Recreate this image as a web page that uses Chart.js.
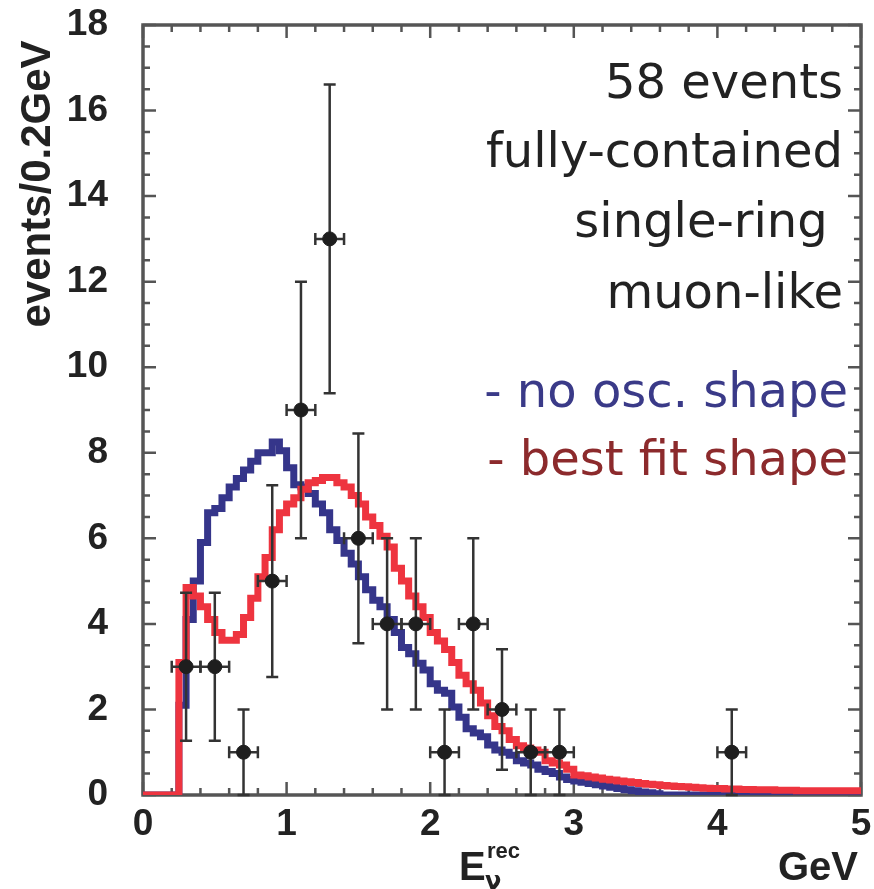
<!DOCTYPE html>
<html>
<head>
<meta charset="utf-8">
<script src="https://cdn.jsdelivr.net/npm/chart.js@4.4.1/dist/chart.umd.min.js"></script>
<style>
  html, body { margin: 0; padding: 0; background: #fff; }
  #wrap { width: 874px; height: 889px; }
</style>
</head>
<body>
<div id="wrap"><canvas id="enuChart" width="874" height="889"></canvas></div>
<script>
// reconstructed neutrino energy, bins of 0.05 GeV from 0 to 5 GeV
const binWidth = 0.05;

// MC shape, no oscillation (blue)
const noOscShape = [
  0, 0, 0, 0, 0, 2.1, 4.1, 5.0, 5.9, 6.6,
  6.7, 6.95, 7.2, 7.4, 7.6, 7.8, 8.0, 8.0, 8.25, 8.05,
  7.65, 7.25, 7.2, 7.05, 6.8, 6.6, 6.2, 5.95, 5.65, 5.4,
  5.1, 4.8, 4.55, 4.4, 4.1, 3.8, 3.45, 3.3, 3.08, 2.92,
  2.6, 2.45, 2.38, 2.06, 1.82, 1.55, 1.45, 1.36, 1.17, 1.05,
  1.0, 0.93, 0.8, 0.75, 0.7, 0.6, 0.55, 0.5, 0.42, 0.36,
  0.33, 0.3, 0.27, 0.24, 0.21, 0.18, 0.15, 0.12, 0.1, 0.07,
  0.05, 0.03, 0, 0, 0, 0, 0, 0, 0, 0,
  0, 0, 0, 0, 0, 0, 0, 0, 0, 0,
  0, 0, 0, 0, 0, 0, 0, 0, 0, 0
];

// MC shape, best oscillation fit (red)
const bestFitShape = [
  0, 0, 0, 0, 0, 3.1, 4.85, 4.65, 4.4, 4.1,
  3.8, 3.62, 3.62, 3.75, 4.15, 4.6, 5.1, 5.55, 6.2, 6.6,
  6.8, 6.95, 7.15, 7.3, 7.35, 7.42, 7.42, 7.3, 7.2, 7.0,
  6.8, 6.5, 6.3, 6.05, 5.8, 5.3, 5.0, 4.65, 4.4, 4.15,
  3.8, 3.6, 3.4, 3.1, 2.8, 2.6, 2.45, 2.15, 1.85, 1.6,
  1.5, 1.3, 1.15, 1.1, 1.05, 1.0, 0.8, 0.75, 0.7, 0.6,
  0.47, 0.45, 0.42, 0.4, 0.37, 0.35, 0.33, 0.31, 0.29, 0.27,
  0.25, 0.24, 0.22, 0.21, 0.2, 0.19, 0.18, 0.17, 0.16, 0.15,
  0.15, 0.14, 0.14, 0.13, 0.13, 0.12, 0.12, 0.12, 0.11, 0.11,
  0.11, 0.1, 0.1, 0.1, 0.1, 0.1, 0.1, 0.1, 0.1, 0.1
];

// data: 0.2 GeV bins (centres), counts and errors
const dataE = [0.3, 0.5, 0.7, 0.9, 1.1, 1.3, 1.5, 1.7, 1.9, 2.1, 2.3, 2.5, 2.7, 2.9, 4.1];
const dataCounts = [3, 3, 1, 5, 9, 13, 6, 4, 4, 1, 4, 2, 1, 1, 1];
const dataErr = [1.73, 1.73, 1, 2.24, 3, 3.61, 2.45, 2, 2, 1, 2, 1.41, 1, 1, 1];
const dataHalfWidth = 0.1;

const xTicks = [0, 1, 2, 3, 4, 5];
const yTicks = [0, 2, 4, 6, 8, 10, 12, 14, 16, 18];

const infoLines = ['58 events', 'fully-contained', 'single-ring ', 'muon-like'];
const legendLines = ['- no osc. shape', '- best fit shape'];

// histogram as step points at lower bin edges (+ closing edge)
function histPoints(vals) {
  const pts = vals.map((v, i) => ({ x: i * binWidth, y: v }));
  pts.push({ x: vals.length * binWidth, y: vals[vals.length - 1] });
  return pts;
}

const tickFont = { family: 'Liberation Sans, Arial, sans-serif', size: 37, weight: 'bold' };

// error bars for the data points
const errorBars = {
  id: 'errorBars',
  beforeDatasetDraw(chart, args) {
    if (args.index !== 0) return;
    const x = chart.scales.x, y = chart.scales.y, ctx = chart.ctx;
    ctx.save();
    ctx.strokeStyle = '#333';
    ctx.lineWidth = 2.5;
    const cap = 6;
    dataE.forEach((e, i) => {
      const px = x.getPixelForValue(e);
      const py = y.getPixelForValue(dataCounts[i]);
      const top = y.getPixelForValue(dataCounts[i] + dataErr[i]);
      const bot = y.getPixelForValue(Math.max(0, dataCounts[i] - dataErr[i]));
      const l = x.getPixelForValue(e - dataHalfWidth);
      const r = x.getPixelForValue(e + dataHalfWidth);
      ctx.beginPath();
      ctx.moveTo(px, top); ctx.lineTo(px, bot);
      ctx.moveTo(px - cap, top); ctx.lineTo(px + cap, top);
      ctx.moveTo(px - cap, bot); ctx.lineTo(px + cap, bot);
      ctx.moveTo(l, py); ctx.lineTo(r, py);
      ctx.moveTo(l, py - cap); ctx.lineTo(l, py + cap);
      ctx.moveTo(r, py - cap); ctx.lineTo(r, py + cap);
      ctx.stroke();
    });
    ctx.restore();
  }
};

// frame with inward ticks on all sides (under the histograms)
const frame = {
  id: 'frame',
  beforeDatasetsDraw(chart) {
    const { ctx, chartArea: a } = chart;
    const x = chart.scales.x, y = chart.scales.y;
    ctx.save();
    ctx.strokeStyle = '#555';
    ctx.lineWidth = 2.5;
    ctx.beginPath();
    for (let k = 0; k <= 25; k++) {
      const px = x.getPixelForValue(k * 0.2);
      const len = k % 5 === 0 ? 13 : 7;
      ctx.moveTo(px, a.bottom); ctx.lineTo(px, a.bottom - len);
      ctx.moveTo(px, a.top); ctx.lineTo(px, a.top + len);
    }
    for (let k = 0; k <= 36; k++) {
      const py = y.getPixelForValue(k * 0.5);
      const len = k % 4 === 0 ? 13 : 7;
      ctx.moveTo(a.left, py); ctx.lineTo(a.left + len, py);
      ctx.moveTo(a.right, py); ctx.lineTo(a.right - len, py);
    }
    ctx.stroke();
    ctx.lineWidth = 3.5;
    ctx.strokeRect(a.left, a.top, a.right - a.left, a.bottom - a.top);
    ctx.restore();
  }
};

// axis titles and the text block
const texts = {
  id: 'texts',
  afterDraw(chart) {
    const ctx = chart.ctx;
    ctx.save();
    ctx.fillStyle = '#222';
    ctx.font = 'bold 42px Liberation Sans, Arial, sans-serif';
    ctx.save();
    ctx.translate(50, 184);
    ctx.rotate(-Math.PI / 2);
    ctx.textAlign = 'center';
    ctx.textBaseline = 'alphabetic';
    ctx.fillText('events/0.2GeV', 0, 0);
    ctx.restore();

    ctx.textBaseline = 'alphabetic';
    ctx.textAlign = 'right';
    ctx.font = 'bold 40px Liberation Sans, Arial, sans-serif';
    ctx.fillText('GeV', 858, 880);
    ctx.textAlign = 'left';
    ctx.fillText('E', 459, 880);
    ctx.font = 'bold 22px Liberation Sans, Arial, sans-serif';
    ctx.fillText('rec', 487, 858);
    ctx.font = 'bold 24px DejaVu Sans, sans-serif';
    ctx.fillText('\u03bd', 485, 889);

    ctx.font = '48px DejaVu Sans, sans-serif';
    ctx.textAlign = 'right';
    const base = [98, 167, 237, 308];
    infoLines.forEach((t, i) => ctx.fillText(t, 843, base[i]));
    ctx.fillStyle = '#3a3a88';
    ctx.fillText(legendLines[0], 848, 407);
    ctx.fillStyle = '#8c2a2c';
    ctx.fillText(legendLines[1], 848, 475);
    ctx.restore();
  }
};

const ctx = document.getElementById('enuChart').getContext('2d');
new Chart(ctx, {
  type: 'scatter',
  data: {
    datasets: [
      {
        label: 'data',
        data: dataE.map((e, i) => ({ x: e, y: dataCounts[i] })),
        backgroundColor: '#1e1e1e',
        borderColor: '#1e1e1e',
        pointRadius: 7,
        showLine: false
      },
      {
        label: 'best fit shape',
        type: 'line',
        data: histPoints(bestFitShape),
        borderColor: '#ee343f',
        borderWidth: 7,
        stepped: 'before',
        pointRadius: 0,
        fill: false,
        borderJoinStyle: 'miter'
      },
      {
        label: 'no osc. shape',
        type: 'line',
        data: histPoints(noOscShape),
        borderColor: '#35358a',
        borderWidth: 7,
        stepped: 'before',
        pointRadius: 0,
        fill: false,
        borderJoinStyle: 'miter',
        clip: 0
      }
    ]
  },
  options: {
    responsive: false,
    animation: false,
    devicePixelRatio: 1,
    layout: { padding: { top: 25, right: 13, left: 0, bottom: 0 } },
    plugins: { legend: { display: false }, tooltip: { enabled: false } },
    scales: {
      x: {
        type: 'linear', min: 0, max: 5,
        afterBuildTicks: s => { s.ticks = xTicks.map(v => ({ value: v })); },
        afterFit: s => { s.height = 94; s.paddingLeft = 0; s.paddingRight = 0; },
        grid: { display: false, drawTicks: false },
        border: { display: false },
        ticks: { font: tickFont, color: '#222', padding: 8, maxRotation: 0 }
      },
      y: {
        type: 'linear', min: 0, max: 18,
        afterBuildTicks: s => { s.ticks = yTicks.map(v => ({ value: v })); },
        afterFit: s => { s.width = 143; s.paddingTop = 0; s.paddingBottom = 0; },
        grid: { display: false, drawTicks: false },
        border: { display: false },
        ticks: { font: tickFont, color: '#222', padding: 35 }
      }
    }
  },
  plugins: [frame, errorBars, texts]
});
</script>
</body>
</html>
